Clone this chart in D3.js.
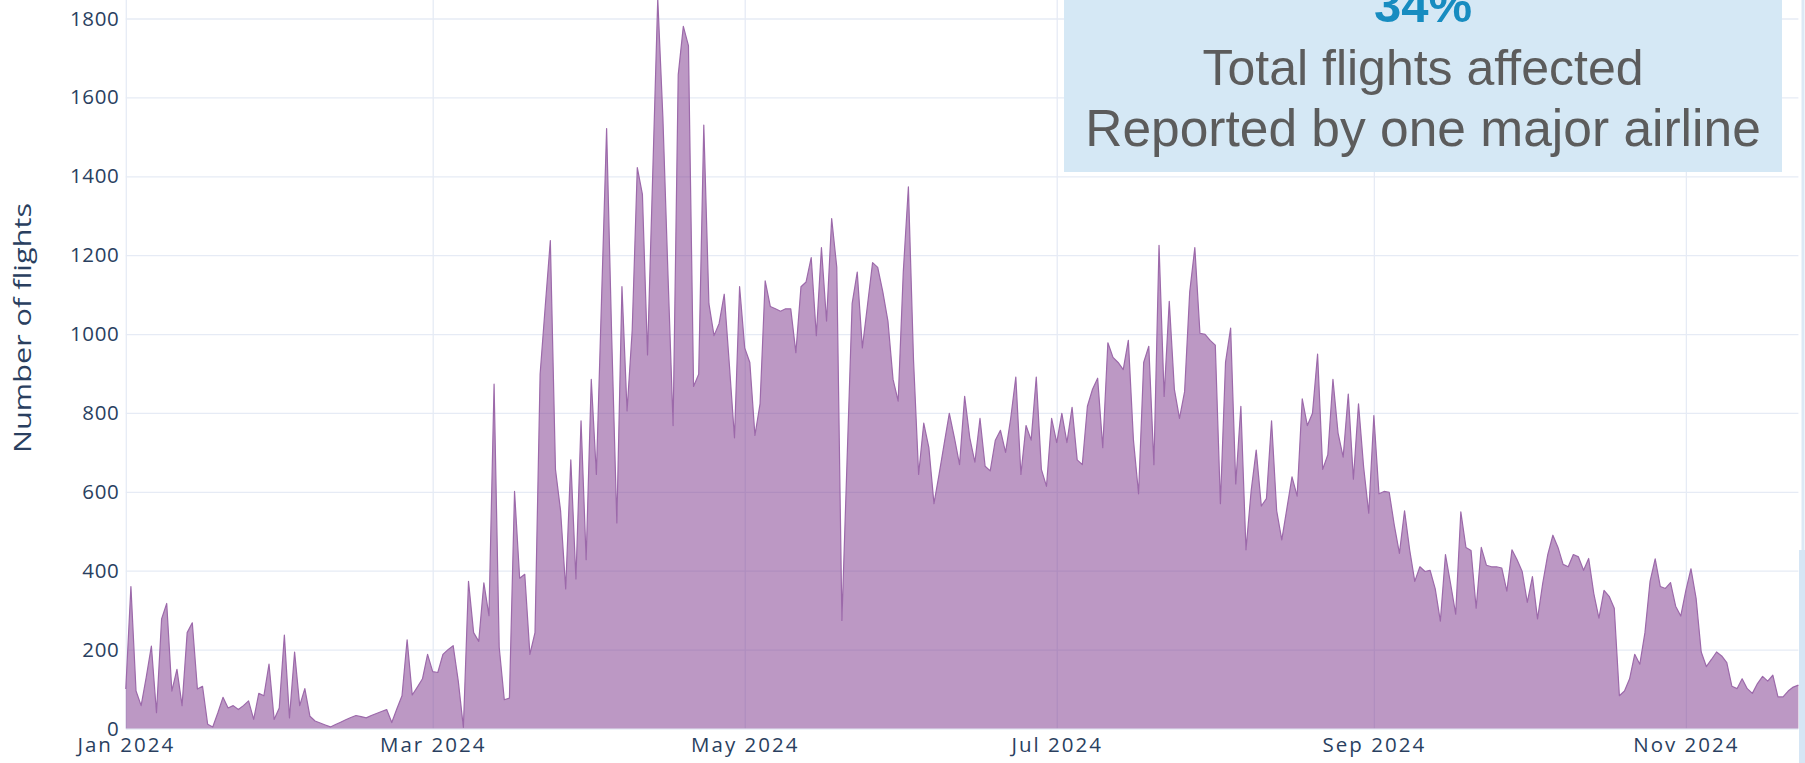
<!DOCTYPE html>
<html>
<head>
<meta charset="utf-8">
<script src="https://cdn.jsdelivr.net/npm/d3@7"></script>
<style>
  html, body { margin: 0; padding: 0; background: #ffffff; overflow: hidden; }
  .tick-label { font-family: "Open Sans", sans-serif; fill: #2a3f5f; }
</style>
</head>
<body>
<div class="container"></div>
<script>
// daily count of affected flights, 1 Jan 2024 .. 23 Nov 2024
const startDay = new Date(2024, 0, 1);
const flights = [
  100, 360, 95, 58, 130, 209, 40, 278, 317, 95, 150, 58, 243, 268, 100, 107, 11, 4, 40, 79,
  52, 58, 48, 58, 70, 23, 89, 83, 163, 23, 52, 237, 27, 194, 58, 101, 31, 19, 14, 9,
  4, 10, 16, 22, 28, 33, 30, 27, 33, 38, 43, 48, 15, 50, 83, 225, 85, 105, 126, 188,
  144, 142, 188, 200, 210, 120, 3, 373, 243, 221, 369, 286, 873, 206, 73, 77, 601, 381, 391, 188,
  243, 898, 1070, 1237, 657, 552, 354, 681, 379, 780, 428, 885, 644, 1083, 1521, 990, 521, 1120, 805, 1009,
  1422, 1354, 947, 1398, 1850, 1550, 1150, 768, 1657, 1780, 1731, 867, 898, 1530, 1077, 996, 1027, 1101, 922, 737,
  1120, 965, 928, 743, 823, 1135, 1070, 1064, 1058, 1064, 1064, 953, 1120, 1132, 1194, 996, 1219, 1033, 1293, 1169,
  274, 675, 1077, 1157, 965, 1073, 1181, 1169, 1107, 1033, 885, 830, 1157, 1373, 935, 644, 774, 712, 570, 644,
  722, 799, 737, 669, 842, 737, 675, 786, 665, 653, 731, 756, 700, 786, 891, 644, 768, 731, 891, 657,
  614, 786, 725, 799, 725, 814, 681, 669, 817, 860, 888, 712, 978, 941, 928, 910, 984, 731, 595, 928,
  969, 669, 1225, 842, 1083, 860, 786, 854, 1107, 1219, 1002, 999, 984, 972, 570, 928, 1015, 620, 817, 453,
  601, 706, 564, 583, 780, 552, 478, 558, 638, 589, 836, 768, 799, 949, 657, 694, 885, 749, 688, 848,
  632, 823, 663, 546, 793, 595, 601, 599, 515, 444, 552, 453, 373, 410, 398, 401, 354, 272, 441, 367,
  290, 549, 459, 451, 305, 459, 414, 410, 410, 407, 348, 453, 428, 398, 320, 385, 278, 367, 441, 490,
  459, 416, 410, 441, 435, 401, 431, 342, 280, 350, 335, 305, 83, 95, 126, 188, 163, 243, 373, 430,
  360, 355, 370, 310, 285, 350, 405, 330, 194, 157, 175, 194, 184, 167, 107, 101, 126, 101, 89, 114,
  132, 120, 135, 80, 80, 95, 105, 110
];

const monthTicks = [new Date(2024, 0, 1), new Date(2024, 2, 1), new Date(2024, 4, 1),
                    new Date(2024, 6, 1), new Date(2024, 8, 1), new Date(2024, 10, 1)];
const monthLabels = ["Jan 2024", "Mar 2024", "May 2024", "Jul 2024", "Sep 2024", "Nov 2024"];
const yTicks = [0, 200, 400, 600, 800, 1000, 1200, 1400, 1600, 1800];

const noteLines = ["Total flights affected", "Reported by one major airline"];
const notePct = "34%";

const width = 1805, height = 763;
const margin = {left: 125.8, top: 18.5};
const plotWidth = 1672.6, plotHeight = 710;

const data = flights.map((v, i) => ({date: d3.timeDay.offset(startDay, i), value: v}));

const svg = d3.select(".container")
  .append("svg")
  .attr("width", width)
  .attr("height", height);

const plot = svg.append("g")
  .attr("transform", `translate(${margin.left},${margin.top})`);

const xScale = d3.scaleTime()
  .domain([startDay, data[data.length - 1].date])
  .range([0, plotWidth]);

const yScale = d3.scaleLinear()
  .domain([0, 1800])
  .range([plotHeight, 0]);

// grid
const yGrid = d3.axisLeft(yScale).tickValues(yTicks).tickSize(-plotWidth).tickFormat("");
const xGrid = d3.axisBottom(xScale).tickValues(monthTicks).tickSize(-(plotHeight + margin.top)).tickFormat("");

plot.append("g").attr("class", "grid").call(yGrid);
plot.append("g").attr("class", "grid")
  .attr("transform", `translate(0,${plotHeight})`)
  .call(xGrid);

plot.selectAll(".grid .domain").remove();
plot.selectAll(".grid line").attr("stroke", "#e6ebf5").attr("stroke-width", 1.3);

// area
const area = d3.area()
  .x(d => xScale(d.date))
  .y0(yScale(0))
  .y1(d => yScale(d.value));

const line = d3.line()
  .x(d => xScale(d.date))
  .y(d => yScale(d.value));

plot.append("path")
  .datum(data)
  .attr("d", area)
  .attr("fill", "rgba(122, 50, 138, 0.5)");

plot.append("path")
  .datum(data)
  .attr("d", line)
  .attr("fill", "none")
  .attr("stroke", "#9c69aa")
  .attr("stroke-width", 1.2)
  .attr("stroke-linejoin", "round");

// axes
const yAxis = d3.axisLeft(yScale).tickValues(yTicks).tickSize(0).tickPadding(6.5)
  .tickFormat(d3.format("d"));
const xAxis = d3.axisBottom(xScale).tickValues(monthTicks).tickSize(0).tickPadding(8.5)
  .tickFormat((d, i) => monthLabels[i]);

const yAxisG = plot.append("g").call(yAxis);
const xAxisG = plot.append("g").attr("transform", `translate(0,${plotHeight})`).call(xAxis);

[yAxisG, xAxisG].forEach(g => {
  g.select(".domain").remove();
  g.selectAll("text")
   .attr("class", "tick-label")
   .attr("font-size", 20.5)
   .attr("fill", "#2a3f5f");
});
yAxisG.selectAll("text").attr("letter-spacing", 0.6);
xAxisG.selectAll("text").attr("letter-spacing", 2);

// axis title
svg.append("text")
   .attr("x", 0)
   .attr("y", 0)
   .attr("transform", "translate(31,328) rotate(-90)")
   .attr("text-anchor", "middle")
   .attr("font-family", "Open Sans, sans-serif")
   .attr("font-size", 23)
   .attr("textLength", 250)
   .attr("lengthAdjust", "spacingAndGlyphs")
   .attr("fill", "#2a3f5f")
   .text("Number of flights");

// annotation box
const note = svg.append("g");
note.append("rect")
    .attr("x", 1064).attr("y", -10)
    .attr("width", 718).attr("height", 182)
    .attr("fill", "#d5e8f5");

note.append("text")
    .attr("x", 1423).attr("y", 22)
    .attr("text-anchor", "middle")
    .attr("font-family", "Liberation Sans, Arial, sans-serif")
    .attr("font-weight", "bold")
    .attr("font-size", 49)
    .attr("fill", "#178cc0")
    .text(notePct);

note.selectAll(".note-line")
    .data(noteLines)
    .enter()
    .append("text")
    .attr("class", "note-line")
    .attr("x", 1423)
    .attr("y", (d, i) => 85 + i * 61)
    .attr("text-anchor", "middle")
    .attr("font-family", "Liberation Sans, Arial, sans-serif")
    .attr("font-size", (d, i) => i === 0 ? 50 : 51.5)
    .attr("fill", "#5c5c5c")
    .text(d => d);

// clipped neighbour panel at the right edge
svg.append("line")
   .attr("x1", 1803).attr("x2", 1803)
   .attr("y1", 0).attr("y2", 550)
   .attr("stroke", "#dce9f5").attr("stroke-width", 3);
svg.append("rect")
   .attr("x", 1799).attr("y", 550)
   .attr("width", 6).attr("height", 213)
   .attr("fill", "#d6e6f5");
</script>
</body>
</html>
